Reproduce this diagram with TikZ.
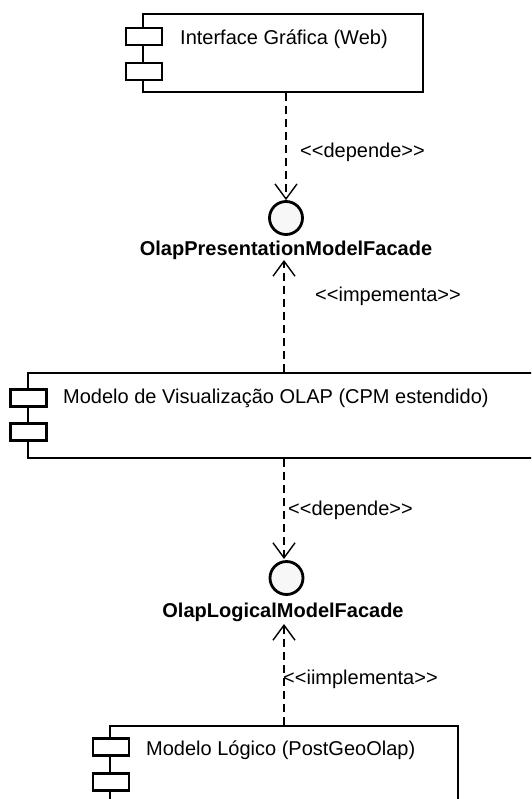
\documentclass[tikz,border=0pt]{standalone}
\usepackage{fontspec}
\setmainfont{Liberation Sans}
\usetikzlibrary{arrows.meta}
\begin{document}
\begin{tikzpicture}[x=1pt,y=-1pt,
  box/.style={draw, line width=2.6pt, fill=white, inner sep=0pt},
  port/.style={draw, line width=2.6pt, fill=white, inner sep=0pt, minimum width=36pt, minimum height=17pt},
  iface/.style={circle, draw, line width=2.8pt, fill=gray!6, minimum size=33pt, inner sep=0pt},
  dep/.style={dash pattern=on 8pt off 5pt, line width=1.4pt, -{Straight Barb[length=15pt,width=22pt,line width=1.4pt]}},
  txt/.style={font=\fontsize{20}{24}\selectfont, inner sep=0pt, anchor=base west},
  lbl/.style={font=\fontsize{20}{24}\selectfont\bfseries, inner sep=0pt, anchor=base},
]
\useasboundingbox (0,0) rectangle (531,799);
\clip (0,0) rectangle (531,799);

% components
\node[box, minimum width=280pt, minimum height=78pt] (b1) at (283,53) {};
\node[port] (p11) at (144,36.5) {};
\node[port] (p12) at (144,71.5) {};
\node[box, minimum width=532pt, minimum height=85pt] (b2) at (294,415.5) {};
\node[port] (p21) at (28.5,398) {};
\node[port] (p22) at (28.5,432) {};
\node[box, minimum width=348pt, minimum height=104pt] (b3) at (284,778) {};
\node[port] (p31) at (111,747) {};
\node[port] (p32) at (111,782) {};

\node[txt] (t1) at (180,45) {Interface Gráfica (Web)};
\node[txt] (t2) at (63,403) {Modelo de Visualização OLAP (CPM estendido)};
\node[txt] (t3) at (146,755) {Modelo Lógico (PostGeoOlap)};

% interfaces
\node[iface] (c1) at (286,218) {};
\node[lbl] (l1) at (286,255) {OlapPresentationModelFacade};
\node[iface] (c2) at (286.5,578) {};
\node[lbl] (l2) at (283,617) {OlapLogicalModelFacade};

% connector ends
\coordinate (a2) at (284,260);
\coordinate (a3) at (284,559);
\coordinate (a4) at (284,624);

\draw[dep] (b1.south -| c1.center) -- (c1.north);
\draw[dep] (b2.north -| a2) -- (a2);
\draw[dep] (b2.south -| a3) -- (a3);
\draw[dep] (b3.north -| a4) -- (a4);

% stereotypes
\node[txt] (s1) at (300,158) {<{}<depende>{}>};
\node[txt] (s2) at (315,301) {<{}<impementa>{}>};
\node[txt] (s3) at (288,515) {<{}<depende>{}>};
\node[txt] (s4) at (283,684) {<{}<iimplementa>{}>};
\end{tikzpicture}
\end{document}
